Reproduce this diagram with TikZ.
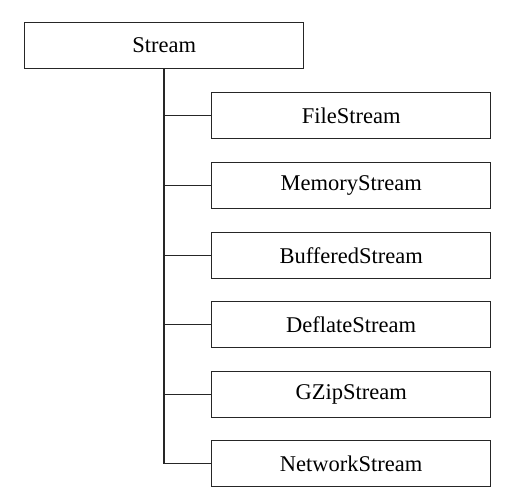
\documentclass[tikz,border=0pt]{standalone}
\usepackage{fontspec}
\setmainfont{Liberation Serif}
\begin{document}
\begin{tikzpicture}[x=1pt,y=-1pt,
  box/.style={draw=black!85,line width=1.3pt,minimum width=279pt,minimum height=46pt,inner sep=0pt,anchor=north west,font=\fontsize{22.5}{26}\selectfont},
  conn/.style={draw=black!85,line width=1.3pt}]
\useasboundingbox[fill=white] (0,0) rectangle (515,501);
\node[box] (stream) at (24,22) {Stream};
\node[box] (c1) at (211,92) {FileStream};
\node[box] (c2) at (211,162) {MemoryStream};
\node[box] (c3) at (211,232) {BufferedStream};
\node[box] (c4) at (211,301) {DeflateStream};
\node[box] (c5) at (211,371) {GZipStream};
\node[box] (c6) at (211,440) {NetworkStream};
\coordinate (trunk) at (164,68);
\draw[conn] (trunk) |- (c6.west);
\foreach \i in {1,...,5}{
  \draw[conn] (c\i.west) -- (trunk |- c\i.west);
}
\end{tikzpicture}
\end{document}
